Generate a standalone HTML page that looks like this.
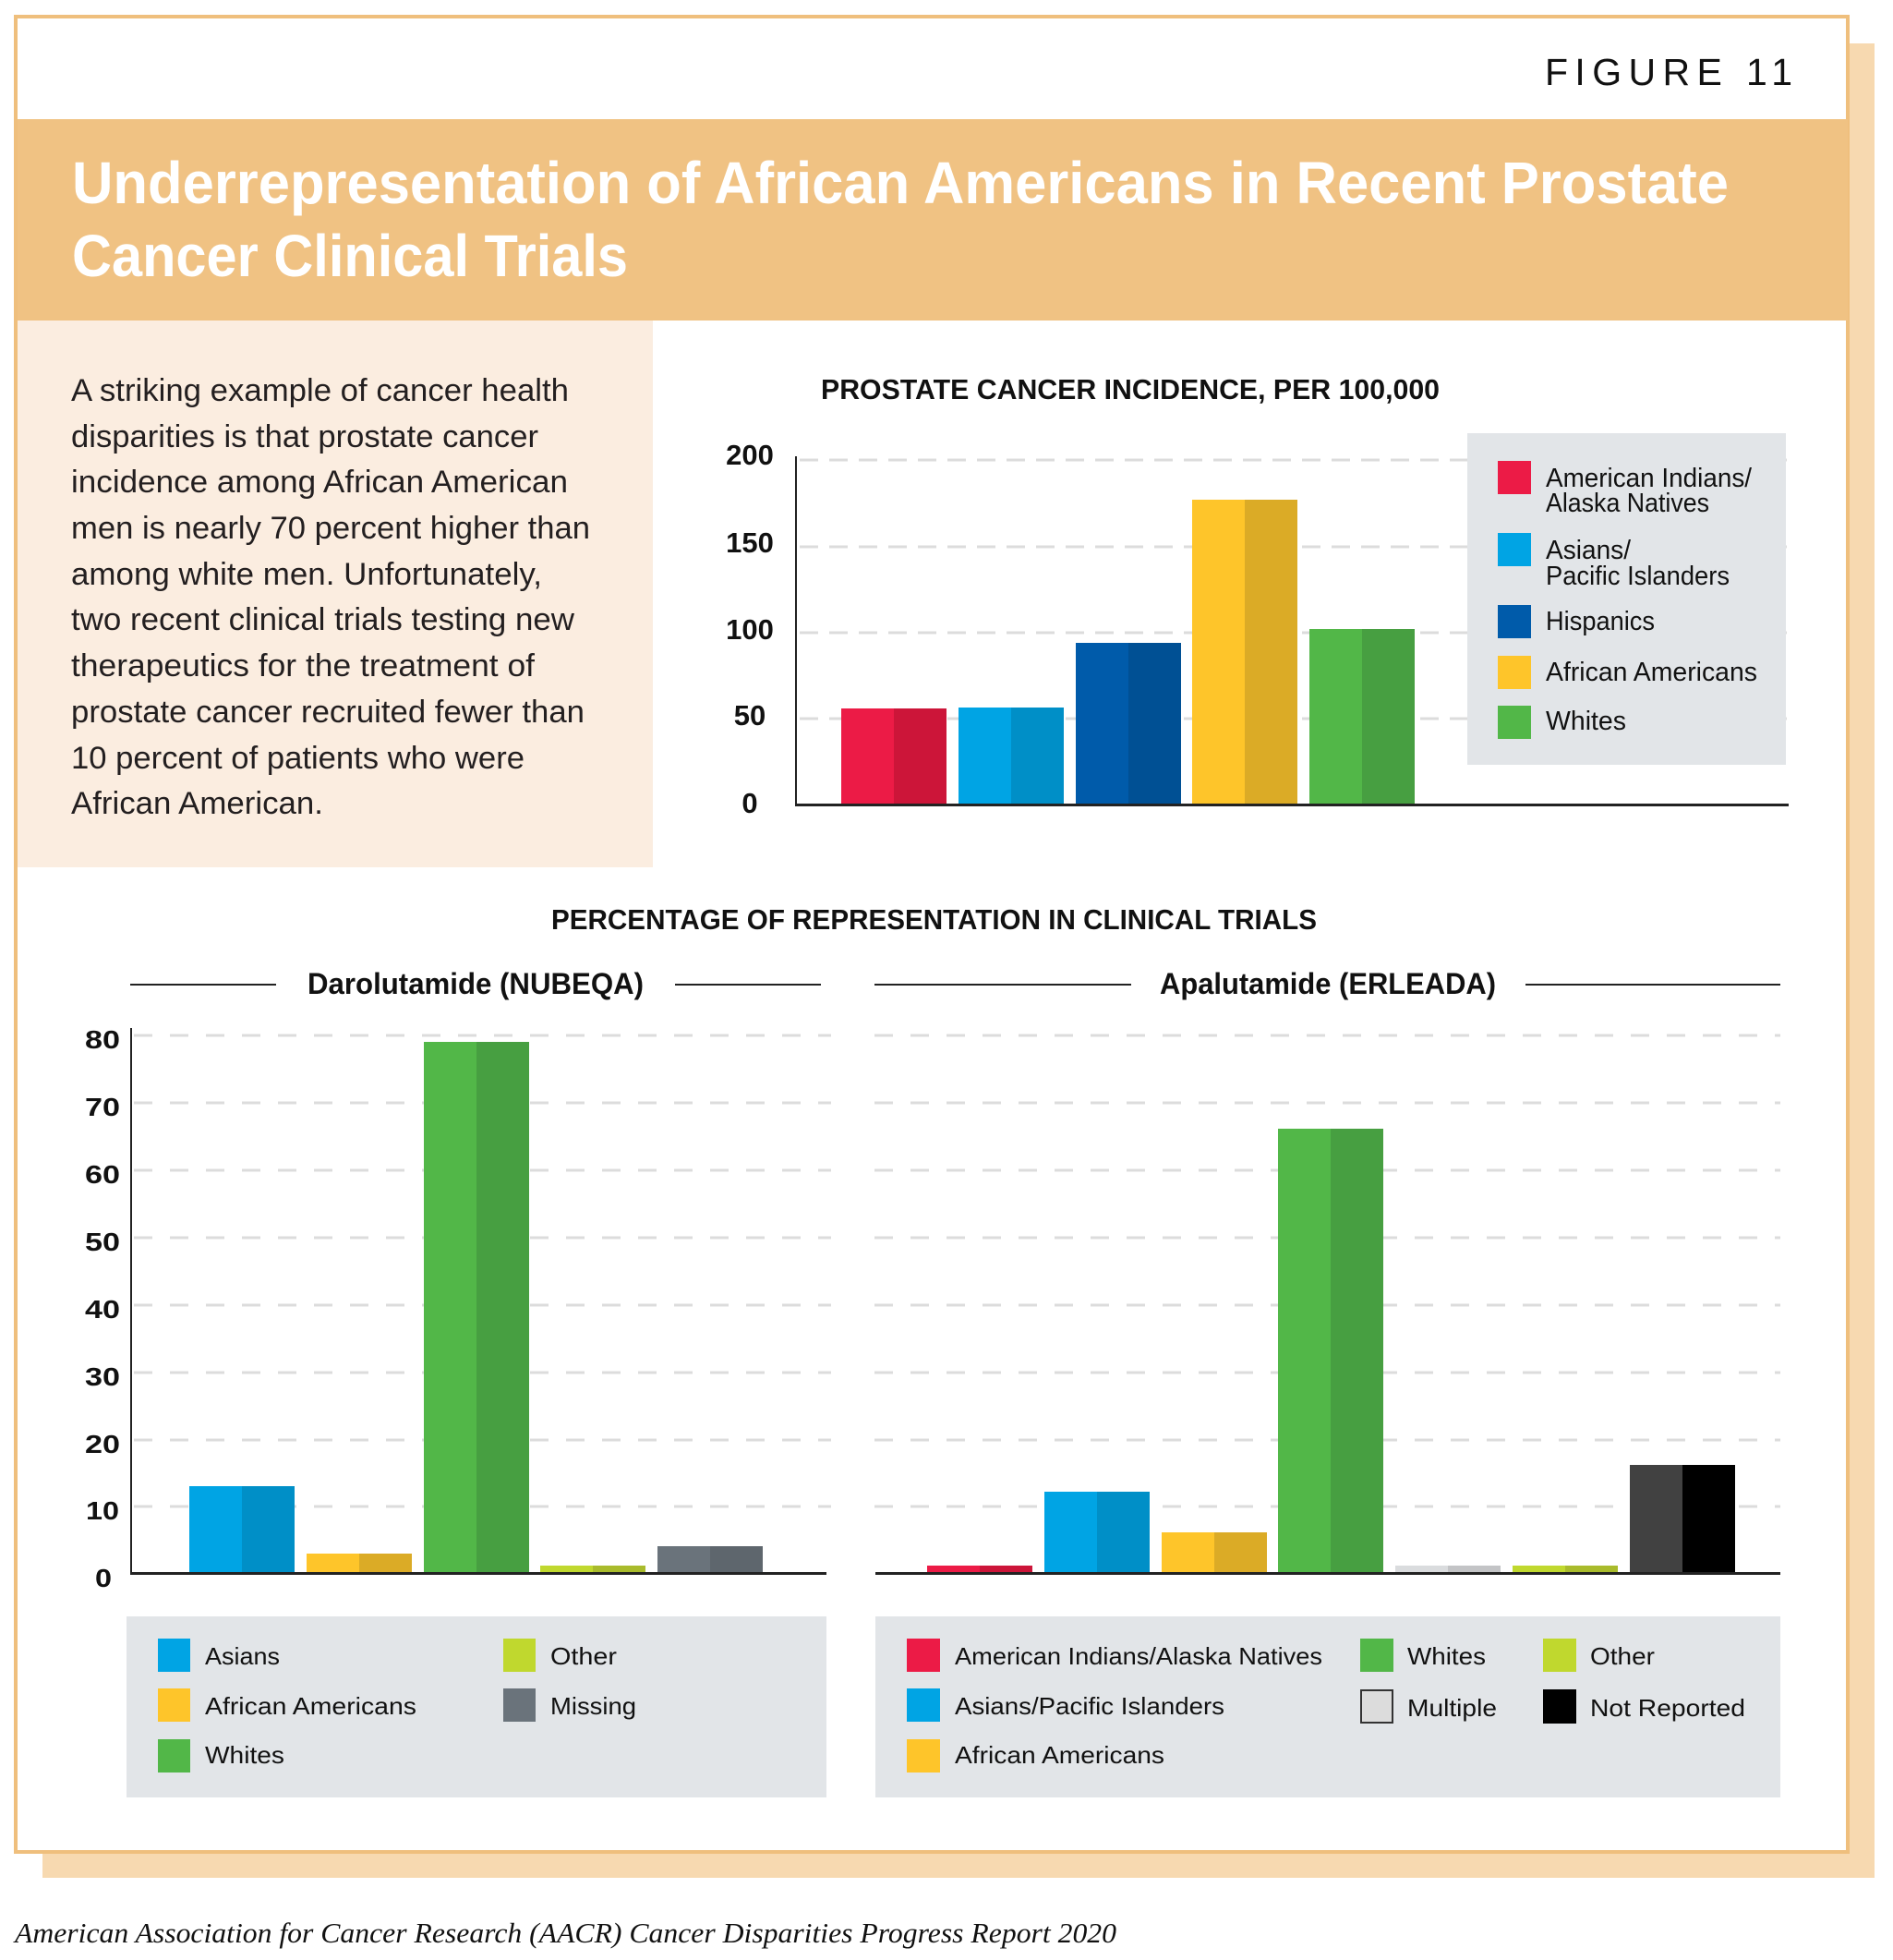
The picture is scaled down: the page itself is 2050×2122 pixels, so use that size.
<!DOCTYPE html>
<html>
<head>
<meta charset="utf-8">
<style>
  html, body { margin: 0; padding: 0; background: #ffffff; }
  svg { display: block; }
  .sans { font-family: "Liberation Sans", "DejaVu Sans", sans-serif; }
  .serif { font-family: "Liberation Serif", "DejaVu Serif", serif; }
</style>
</head>
<body>
<svg width="2050" height="2122" viewBox="0 0 2050 2122" xmlns="http://www.w3.org/2000/svg">
  <rect x="0" y="0" width="2050" height="2122" fill="#ffffff"/>
  <!-- shadow -->
  <rect x="46" y="47" width="1984" height="1986" fill="#f7d9b0"/>
  <!-- main frame -->
  <rect x="17" y="18" width="1984" height="1987" fill="#ffffff" stroke="#efbf7d" stroke-width="4"/>
  <!-- header band -->
  <rect x="19" y="129" width="1982" height="218" fill="#f0c283"/>
  <!-- cream panel -->
  <rect x="19" y="347" width="688" height="592" fill="#fbede0"/>

  <!-- FIGURE 11 -->
  <text class="sans" x="1673" y="92" font-size="41" fill="#111" textLength="268" lengthAdjust="spacing">FIGURE 11</text>

  <!-- Title -->
  <g class="sans" font-weight="bold" font-size="64" fill="#ffffff">
    <text x="78" y="220" textLength="1794" lengthAdjust="spacingAndGlyphs">Underrepresentation of African Americans in Recent Prostate</text>
    <text x="78" y="299" textLength="602" lengthAdjust="spacingAndGlyphs">Cancer Clinical Trials</text>
  </g>

  <!-- Body text -->
  <g class="sans" font-size="34" fill="#231f20">
    <text x="77" y="434" textLength="539" lengthAdjust="spacingAndGlyphs">A striking example of cancer health</text>
    <text x="77" y="484" textLength="506" lengthAdjust="spacingAndGlyphs">disparities is that prostate cancer</text>
    <text x="77" y="533" textLength="538" lengthAdjust="spacingAndGlyphs">incidence among African American</text>
    <text x="77" y="583" textLength="562" lengthAdjust="spacingAndGlyphs">men is nearly 70 percent higher than</text>
    <text x="77" y="633" textLength="510" lengthAdjust="spacingAndGlyphs">among white men. Unfortunately,</text>
    <text x="77" y="682" textLength="545" lengthAdjust="spacingAndGlyphs">two recent clinical trials testing new</text>
    <text x="77" y="732" textLength="502" lengthAdjust="spacingAndGlyphs">therapeutics for the treatment of</text>
    <text x="77" y="782" textLength="556" lengthAdjust="spacingAndGlyphs">prostate cancer recruited fewer than</text>
    <text x="77" y="832" textLength="491" lengthAdjust="spacingAndGlyphs">10 percent of patients who were</text>
    <text x="77" y="881" textLength="273" lengthAdjust="spacingAndGlyphs">African American.</text>
  </g>

  <!-- ============ TOP CHART ============ -->
  <text class="sans" x="889" y="432" font-size="31" font-weight="bold" fill="#111" textLength="670" lengthAdjust="spacingAndGlyphs">PROSTATE CANCER INCIDENCE, PER 100,000</text>

  <!-- gridlines -->
  <g stroke="#dcdcdc" stroke-width="3" stroke-dasharray="20 12">
    <line x1="866" y1="498" x2="1935" y2="498"/>
    <line x1="866" y1="592" x2="1935" y2="592"/>
    <line x1="866" y1="685" x2="1935" y2="685"/>
    <line x1="866" y1="778" x2="1935" y2="778"/>
  </g>

  <!-- legend box -->
  <rect x="1589" y="469" width="345" height="359" fill="#e2e5e8"/>
  <rect x="1622" y="499" width="36" height="36" fill="#ec1b46"/>
  <rect x="1622" y="577" width="36" height="36" fill="#00a4e4"/>
  <rect x="1622" y="655" width="36" height="36" fill="#005baa"/>
  <rect x="1622" y="710" width="36" height="36" fill="#fec52a"/>
  <rect x="1622" y="764" width="36" height="36" fill="#52b748"/>
  <g class="sans" font-size="29" fill="#111">
    <text x="1674" y="527" textLength="223" lengthAdjust="spacingAndGlyphs">American Indians/</text>
    <text x="1674" y="554" textLength="177" lengthAdjust="spacingAndGlyphs">Alaska Natives</text>
    <text x="1674" y="605" textLength="92" lengthAdjust="spacingAndGlyphs">Asians/</text>
    <text x="1674" y="633" textLength="199" lengthAdjust="spacingAndGlyphs">Pacific Islanders</text>
    <text x="1674" y="682" textLength="118" lengthAdjust="spacingAndGlyphs">Hispanics</text>
    <text x="1674" y="737" textLength="229" lengthAdjust="spacingAndGlyphs">African Americans</text>
    <text x="1674" y="790" textLength="87" lengthAdjust="spacingAndGlyphs">Whites</text>
  </g>

  <!-- bars -->
  <rect x="911" y="767" width="57" height="104" fill="#ec1b46"/>
  <rect x="968" y="767" width="57" height="104" fill="#cc1539"/>
  <rect x="1038" y="766" width="57" height="105" fill="#00a4e4"/>
  <rect x="1095" y="766" width="57" height="105" fill="#008fc7"/>
  <rect x="1165" y="696" width="57" height="175" fill="#005baa"/>
  <rect x="1222" y="696" width="57" height="175" fill="#005094"/>
  <rect x="1291" y="541" width="57" height="330" fill="#fec52a"/>
  <rect x="1348" y="541" width="57" height="330" fill="#dbab26"/>
  <rect x="1418" y="681" width="57" height="190" fill="#52b748"/>
  <rect x="1475" y="681" width="57" height="190" fill="#479f41"/>

  <!-- axes -->
  <rect x="861" y="494" width="2" height="378" fill="#222"/>
  <rect x="861" y="870" width="1076" height="3" fill="#222"/>

  <!-- tick labels -->
  <g class="sans" font-size="31" font-weight="bold" fill="#111" text-anchor="middle">
    <text x="812" y="503">200</text>
    <text x="812" y="598">150</text>
    <text x="812" y="692">100</text>
    <text x="812" y="785">50</text>
    <text x="812" y="880">0</text>
  </g>

  <!-- ============ BOTTOM SECTION ============ -->
  <text class="sans" x="597" y="1006" font-size="31" font-weight="bold" fill="#111" textLength="829" lengthAdjust="spacingAndGlyphs">PERCENTAGE OF REPRESENTATION IN CLINICAL TRIALS</text>

  <!-- subtitles -->
  <g stroke="#222" stroke-width="2">
    <line x1="141" y1="1066" x2="299" y2="1066"/>
    <line x1="731" y1="1066" x2="889" y2="1066"/>
    <line x1="947" y1="1066" x2="1225" y2="1066"/>
    <line x1="1652" y1="1066" x2="1928" y2="1066"/>
  </g>
  <g class="sans" font-size="32" font-weight="bold" fill="#111">
    <text x="333" y="1076" textLength="364" lengthAdjust="spacingAndGlyphs">Darolutamide (NUBEQA)</text>
    <text x="1256" y="1076" textLength="364" lengthAdjust="spacingAndGlyphs">Apalutamide (ERLEADA)</text>
  </g>

  <!-- gridlines bottom -->
  <g stroke="#dcdcdc" stroke-width="3" stroke-dasharray="20 19">
    <line x1="145" y1="1121" x2="900" y2="1121"/>
    <line x1="145" y1="1194" x2="900" y2="1194"/>
    <line x1="145" y1="1267" x2="900" y2="1267"/>
    <line x1="145" y1="1340" x2="900" y2="1340"/>
    <line x1="145" y1="1413" x2="900" y2="1413"/>
    <line x1="145" y1="1486" x2="900" y2="1486"/>
    <line x1="145" y1="1559" x2="900" y2="1559"/>
    <line x1="145" y1="1631" x2="900" y2="1631"/>

    <line x1="947" y1="1121" x2="1928" y2="1121"/>
    <line x1="947" y1="1194" x2="1928" y2="1194"/>
    <line x1="947" y1="1267" x2="1928" y2="1267"/>
    <line x1="947" y1="1340" x2="1928" y2="1340"/>
    <line x1="947" y1="1413" x2="1928" y2="1413"/>
    <line x1="947" y1="1486" x2="1928" y2="1486"/>
    <line x1="947" y1="1559" x2="1928" y2="1559"/>
    <line x1="947" y1="1631" x2="1928" y2="1631"/>
  </g>

  <!-- left bars -->
  <rect x="205" y="1609" width="57" height="94" fill="#00a4e4"/>
  <rect x="262" y="1609" width="57" height="94" fill="#008fc7"/>
  <rect x="332" y="1682" width="57" height="21" fill="#fec52a"/>
  <rect x="389" y="1682" width="57" height="21" fill="#dbab26"/>
  <rect x="459" y="1128" width="57" height="575" fill="#52b748"/>
  <rect x="516" y="1128" width="57" height="575" fill="#479f41"/>
  <rect x="585" y="1695" width="57" height="8" fill="#c0d82e"/>
  <rect x="642" y="1695" width="57" height="8" fill="#a9bb2c"/>
  <rect x="712" y="1674" width="57" height="29" fill="#6a737b"/>
  <rect x="769" y="1674" width="57" height="29" fill="#5e666d"/>

  <!-- right bars -->
  <rect x="1004" y="1695" width="57" height="8" fill="#ec1b46"/>
  <rect x="1061" y="1695" width="57" height="8" fill="#cc1539"/>
  <rect x="1131" y="1615" width="57" height="88" fill="#00a4e4"/>
  <rect x="1188" y="1615" width="57" height="88" fill="#008fc7"/>
  <rect x="1258" y="1659" width="57" height="44" fill="#fec52a"/>
  <rect x="1315" y="1659" width="57" height="44" fill="#dbab26"/>
  <rect x="1384" y="1222" width="57" height="481" fill="#52b748"/>
  <rect x="1441" y="1222" width="57" height="481" fill="#479f41"/>
  <rect x="1511" y="1695" width="57" height="8" fill="#dadcde"/>
  <rect x="1568" y="1695" width="57" height="8" fill="#c3c4c6"/>
  <rect x="1638" y="1695" width="57" height="8" fill="#c0d82e"/>
  <rect x="1695" y="1695" width="57" height="8" fill="#a9bb2c"/>
  <rect x="1765" y="1586" width="57" height="117" fill="#414141"/>
  <rect x="1822" y="1586" width="57" height="117" fill="#000000"/>

  <!-- axes bottom -->
  <rect x="141" y="1113" width="2" height="591" fill="#222"/>
  <rect x="141" y="1702" width="754" height="3" fill="#222"/>
  <rect x="948" y="1702" width="980" height="3" fill="#222"/>

  <!-- bottom tick labels -->
  <g class="sans" font-size="28" font-weight="bold" fill="#111" text-anchor="middle">
    <text x="111" y="1135" textLength="38" lengthAdjust="spacingAndGlyphs">80</text>
    <text x="111" y="1208" textLength="38" lengthAdjust="spacingAndGlyphs">70</text>
    <text x="111" y="1281" textLength="38" lengthAdjust="spacingAndGlyphs">60</text>
    <text x="111" y="1354" textLength="38" lengthAdjust="spacingAndGlyphs">50</text>
    <text x="111" y="1427" textLength="38" lengthAdjust="spacingAndGlyphs">40</text>
    <text x="111" y="1500" textLength="38" lengthAdjust="spacingAndGlyphs">30</text>
    <text x="111" y="1573" textLength="38" lengthAdjust="spacingAndGlyphs">20</text>
    <text x="111" y="1645" textLength="36" lengthAdjust="spacingAndGlyphs">10</text>
    <text x="112" y="1718" textLength="18" lengthAdjust="spacingAndGlyphs">0</text>
  </g>

  <!-- left legend -->
  <rect x="137" y="1750" width="758" height="196" fill="#e2e5e8"/>
  <rect x="171" y="1774" width="35" height="36" fill="#00a4e4"/>
  <rect x="171" y="1828" width="35" height="36" fill="#fec52a"/>
  <rect x="171" y="1883" width="35" height="36" fill="#52b748"/>
  <rect x="545" y="1774" width="35" height="36" fill="#c0d82e"/>
  <rect x="545" y="1828" width="35" height="36" fill="#6a737b"/>
  <g class="sans" font-size="26" fill="#111">
    <text x="222" y="1802" textLength="81" lengthAdjust="spacingAndGlyphs">Asians</text>
    <text x="222" y="1856" textLength="229" lengthAdjust="spacingAndGlyphs">African Americans</text>
    <text x="222" y="1909" textLength="86" lengthAdjust="spacingAndGlyphs">Whites</text>
    <text x="596" y="1802" textLength="72" lengthAdjust="spacingAndGlyphs">Other</text>
    <text x="596" y="1856" textLength="93" lengthAdjust="spacingAndGlyphs">Missing</text>
  </g>

  <!-- right legend -->
  <rect x="948" y="1750" width="980" height="196" fill="#e2e5e8"/>
  <rect x="982" y="1774" width="36" height="36" fill="#ec1b46"/>
  <rect x="982" y="1828" width="36" height="36" fill="#00a4e4"/>
  <rect x="982" y="1883" width="36" height="36" fill="#fec52a"/>
  <rect x="1473" y="1774" width="36" height="36" fill="#52b748"/>
  <rect x="1474" y="1830" width="34" height="35" fill="#dcdcdc" stroke="#333" stroke-width="2"/>
  <rect x="1671" y="1774" width="36" height="36" fill="#c0d82e"/>
  <rect x="1671" y="1829" width="36" height="37" fill="#000000"/>
  <g class="sans" font-size="26" fill="#111">
    <text x="1034" y="1802" textLength="398" lengthAdjust="spacingAndGlyphs">American Indians/Alaska Natives</text>
    <text x="1034" y="1856" textLength="292" lengthAdjust="spacingAndGlyphs">Asians/Pacific Islanders</text>
    <text x="1034" y="1909" textLength="227" lengthAdjust="spacingAndGlyphs">African Americans</text>
    <text x="1524" y="1802" textLength="85" lengthAdjust="spacingAndGlyphs">Whites</text>
    <text x="1524" y="1858" textLength="97" lengthAdjust="spacingAndGlyphs">Multiple</text>
    <text x="1722" y="1802" textLength="70" lengthAdjust="spacingAndGlyphs">Other</text>
    <text x="1722" y="1858" textLength="168" lengthAdjust="spacingAndGlyphs">Not Reported</text>
  </g>

  <!-- footer -->
  <text class="serif" x="16" y="2103" font-size="31" font-style="italic" fill="#111" textLength="1193" lengthAdjust="spacingAndGlyphs">American Association for Cancer Research (AACR) Cancer Disparities Progress Report 2020</text>
</svg>
</body>
</html>
